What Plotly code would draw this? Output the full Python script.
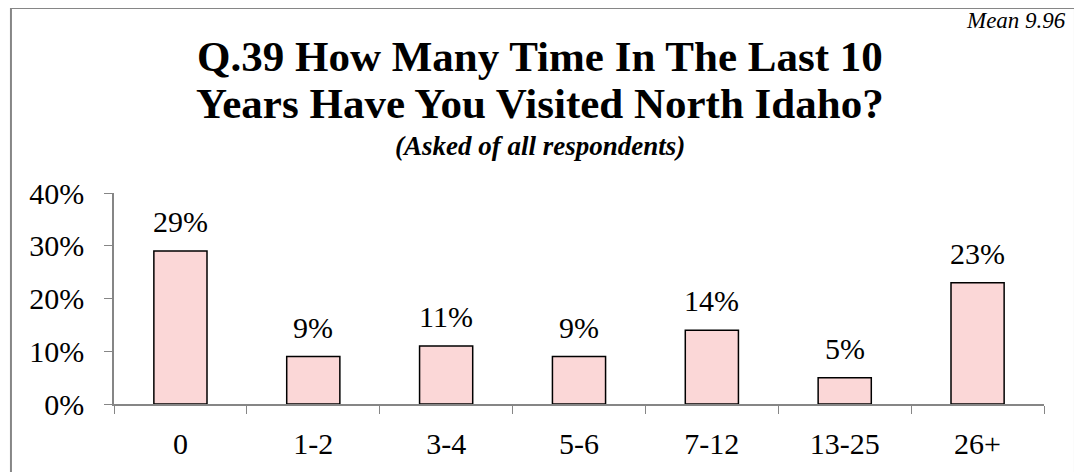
import plotly.graph_objects as go

# survey answers
categories = ['0', '1-2', '3-4', '5-6', '7-12', '13-25', '26+']
shares = [0.29, 0.09, 0.11, 0.09, 0.14, 0.05, 0.23]
labels = ['29%', '9%', '11%', '9%', '14%', '5%', '23%']

serif = 'Liberation Serif, Times New Roman, serif'
axis_grey = '#868686'

fig = go.Figure()
fig.add_trace(go.Bar(x=categories, y=shares, width=0.4,
                     marker=dict(color='#FBD7D7', line=dict(color='black', width=1.5)),
                     hoverinfo='skip'))

# value labels above the bars
for cat, val, lab in zip(categories, shares, labels):
    fig.add_annotation(x=cat, y=val, text=lab, showarrow=False,
                       yanchor='bottom', yshift=11,
                       font=dict(family=serif, size=30, color='black'))

# titles
fig.add_annotation(xref='paper', yref='paper', x=0.458, y=1.645, yanchor='middle',
                   text='<b>Q.39 How Many Time In The Last 10</b>', showarrow=False,
                   font=dict(family=serif, size=43, color='black'))
fig.add_annotation(xref='paper', yref='paper', x=0.458, y=1.422, yanchor='middle',
                   text='<b>Years Have You Visited North Idaho?</b>', showarrow=False,
                   font=dict(family=serif, size=43, color='black'))
fig.add_annotation(xref='paper', yref='paper', x=0.458, y=1.223, yanchor='middle',
                   text='<b><i>(Asked of all respondents)</i></b>', showarrow=False,
                   font=dict(family=serif, size=27, color='black'))
fig.add_annotation(xref='paper', yref='paper', x=1.026, y=1.82, xanchor='right',
                   yanchor='middle', height=22, text='<i>Mean 9.96</i>', showarrow=False,
                   font=dict(family=serif, size=23, color='black'))

# outer frame
fig.add_shape(type='rect', xref='paper', yref='paper',
              x0=-0.1108, x1=1.0333, y0=-0.5, y1=1.877,
              line=dict(color=axis_grey, width=2), layer='below')

fig.update_layout(width=1074, height=464,
                  margin=dict(l=106, r=38, t=185, b=68),
                  plot_bgcolor='white', paper_bgcolor='white',
                  showlegend=False, bargap=0.6,
                  font=dict(family=serif, size=30, color='black'))
fig.update_xaxes(type='category', showline=True, linecolor=axis_grey, linewidth=1.5,
                 ticks='outside', tickson='boundaries', ticklen=8, tickcolor=axis_grey,
                 ticklabelstandoff=12, showgrid=False, tickfont=dict(family=serif, size=30))
fig.update_yaxes(range=[0, 0.4], dtick=0.1, tickformat='.0%', showline=True,
                 linecolor=axis_grey, linewidth=1.5, ticks='outside', ticklen=8,
                 tickcolor=axis_grey, ticklabelstandoff=14, showgrid=False, zeroline=False,
                 tickfont=dict(family=serif, size=30))

fig.write_html('out.html')
